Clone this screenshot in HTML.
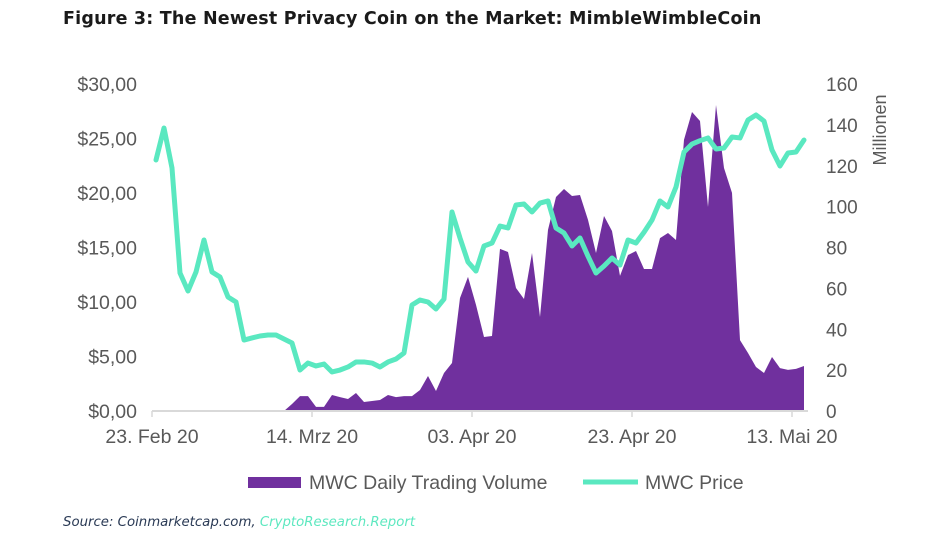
<!DOCTYPE html>
<html><head><meta charset="utf-8"><style>
body{margin:0;background:#fff;width:937px;height:545px;overflow:hidden;font-family:"Liberation Sans",sans-serif}
.t{position:absolute;left:63px;top:9px;font:bold 17.5px "DejaVu Sans",sans-serif;color:#1a1a1a;letter-spacing:0.2px}
.s{position:absolute;left:63px;top:515px;font:italic 13.3px "DejaVu Sans",sans-serif;color:#2a3a55}
.s span{color:#5ee8c0}
</style></head><body>
<div class="t">Figure 3: The Newest Privacy Coin on the Market: MimbleWimbleCoin</div>
<svg id="c" width="937" height="545" style="position:absolute;left:0;top:0"></svg>
<div class="s">Source: Coinmarketcap.com, <span>CryptoResearch.Report</span></div>
<script>
const priceDays=[0,1,2,3,4,5,6,7,8,9,10,11,12,13,14,15,16,17,18,19,20,21,22,23,24,25,26,27,28,29,30,31,32,33,34,35,36,37,38,39,40,41,42,43,44,45,46,47,48,49,50,51,52,53,54,55,56,57,58,59,60,61,62,63,64,65,66,67,68,69,70,71,72,73,74,75,76,77,78,79,80,81];
const priceValues=[23.03,25.96,22.29,12.66,11.01,12.75,15.69,12.75,12.29,10.46,10.0,6.51,6.70,6.88,6.97,6.97,6.61,6.24,3.76,4.40,4.13,4.31,3.58,3.76,4.04,4.50,4.50,4.40,4.04,4.50,4.77,5.32,9.72,10.18,10.0,9.36,10.27,18.26,15.87,13.67,12.84,15.14,15.41,16.97,16.79,18.90,18.99,18.26,19.08,19.27,16.79,16.33,15.14,15.87,14.2,12.66,13.3,14.04,13.39,15.69,15.41,16.4,17.52,19.27,18.72,20.55,23.76,24.49,24.8,25.05,24.04,24.13,25.14,25.05,26.7,27.16,26.6,23.94,22.48,23.67,23.76,24.86];
const volDays=[16,17,18,19,20,21,22,23,24,25,26,27,28,29,30,31,32,33,34,35,36,37,38,39,40,41,42,43,44,45,46,47,48,49,50,51,52,53,54,55,56,57,58,59,60,61,62,63,64,65,66,67,68,69,70,71,72,73,74,75,76,77,78,79,80,81];
const volValues=[0,3.4,7.3,7.3,2.0,2.0,7.8,6.8,5.9,8.8,4.4,4.9,5.4,7.8,6.8,7.3,7.3,10.3,17.1,9.8,18.6,23.5,55.3,65.6,51.9,36.2,36.7,79.3,77.8,60.2,54.8,77.3,46.0,88.6,104.7,108.6,105.2,105.7,93.5,77.3,95.4,88.1,66.1,76.3,78.3,69.5,69.5,84.6,87.1,83.7,132.7,146.3,141.9,99.8,149.7,118.9,106.7,34.7,28.4,21.5,18.6,26.4,21.0,20.1,20.6,22.0];
const leftTicks=["$0,00","$5,00","$10,00","$15,00","$20,00","$25,00","$30,00"];
const rightTicks=["0","20","40","60","80","100","120","140","160"];
const xTickDays=[0,20,40,60,80];
const xTickLabels=["23. Feb 20","14. Mrz 20","03. Apr 20","23. Apr 20","13. Mai 20"];
const NS="http://www.w3.org/2000/svg",svg=document.getElementById('c');
const x=d=>156+8*d, yL=v=>411-v*327/30, yR=v=>411-v*327/160;
function mk(t,a,txt){const e=document.createElementNS(NS,t);for(const k in a)e.setAttribute(k,a[k]);if(txt!=null)e.textContent=txt;svg.appendChild(e);return e;}
let d=`M${x(volDays[0])},411`;volDays.forEach((dd,i)=>d+=` L${x(dd)},${yR(volValues[i])}`);d+=` L${x(volDays[volDays.length-1])},411 Z`;
const area=mk('path',{d,fill:'#70309e'});


const ax=mk('line',{x1:152,y1:411,x2:808,y2:411,stroke:'#d9d9d9','stroke-width':2});


xTickDays.forEach((td,i)=>{
 const tx=x(td)-4;
 const tk=mk('line',{x1:tx,y1:411,x2:tx,y2:417,stroke:'#d9d9d9','stroke-width':1.5});
 
 
 const lb=mk('text',{x:tx,y:443,'text-anchor':'middle','font-size':19.5,fill:'#595959','font-family':'Liberation Sans'},xTickLabels[i]);
 
 
});
leftTicks.forEach((t,i)=>{
 const lb=mk('text',{x:137,y:yL(i*5)+7,'text-anchor':'end','font-size':19.5,fill:'#595959','font-family':'Liberation Sans'},t);
 
 
});
rightTicks.forEach((t,i)=>{
 const lb=mk('text',{x:826,y:yR(i*20)+7,'font-size':19,fill:'#595959','font-family':'Liberation Sans'},t);
 
 
});
const ut=mk('text',{x:0,y:0,transform:'translate(886,130) rotate(-90)','text-anchor':'middle','font-size':18,fill:'#595959','font-family':'Liberation Sans'},'Millionen');


const pts=priceDays.map((dd,i)=>`${x(dd)},${yL(priceValues[i])}`).join(' ');
const pl=mk('polyline',{points:pts,fill:'none',stroke:'#5ae8c0','stroke-width':5,'stroke-linejoin':'round','stroke-linecap':'round'});


const r=mk('rect',{x:248,y:477,width:53,height:11,fill:'#70309e'});


const l1=mk('text',{x:309,y:489,'font-size':19.5,fill:'#595959','font-family':'Liberation Sans'},'MWC Daily Trading Volume');


const ll=mk('line',{x1:583,y1:482,x2:638,y2:482,stroke:'#5ae8c0','stroke-width':5});


const l2=mk('text',{x:645,y:489,'font-size':19.5,fill:'#595959','font-family':'Liberation Sans'},'MWC Price');


</script>
</body></html>
